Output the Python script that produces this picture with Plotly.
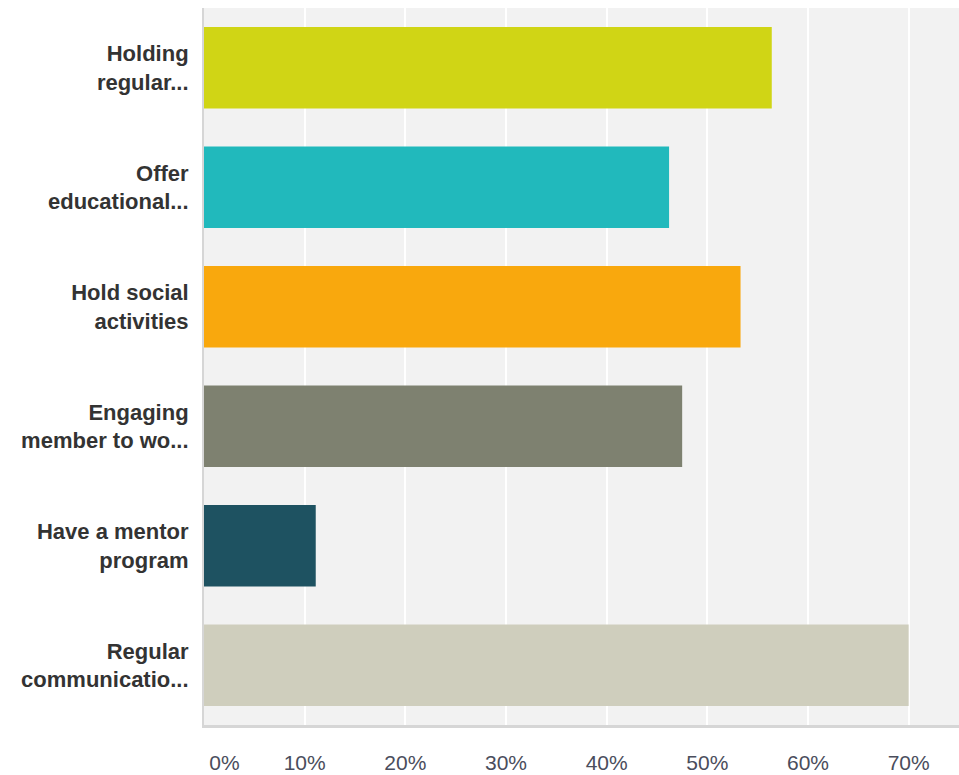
import plotly.graph_objects as go

categories = [
    "Holding<br>regular...",
    "Offer<br>educational...",
    "Hold social<br>activities",
    "Engaging<br>member to wo...",
    "Have a mentor<br>program",
    "Regular<br>communicatio...",
]
percent = [56.4, 46.2, 53.3, 47.5, 11.1, 70.0]
colors = ["#d0d515", "#21b9bc", "#f9a80d", "#7e8170", "#1e5261", "#cfcebd"]
tick_vals = [0, 10, 20, 30, 40, 50, 60, 70]
# the first label sits just right of the axis line in the original
tick_text = ["\u00a0\u00a0\u00a0\u00a0\u00a0\u00a0\u00a00%", "10%", "20%", "30%",
             "40%", "50%", "60%", "70%"]

FONT = "Liberation Sans, Arial, sans-serif"

fig = go.Figure(
    go.Bar(
        x=percent,
        y=categories,
        orientation="h",
        marker=dict(color=colors, line=dict(width=0)),
        hoverinfo="x+y",
    )
)

fig.update_layout(
    width=959,
    height=775,
    margin=dict(l=204, r=0, t=8, b=50),
    paper_bgcolor="white",
    plot_bgcolor="#f2f2f2",
    bargap=0.32,
    showlegend=False,
    font=dict(family=FONT),
)

fig.update_xaxes(
    range=[0, 75],
    tickvals=tick_vals,
    ticktext=tick_text,
    showgrid=True,
    gridcolor="white",
    gridwidth=2,
    zeroline=False,
    showline=True,
    linecolor="#d6d6d6",
    linewidth=3,
    tickfont=dict(size=21, color="#4a4d5c"),
    ticklabelstandoff=17,
    automargin=False,
    fixedrange=True,
)

fig.update_yaxes(
    categoryorder="array",
    categoryarray=categories[::-1],
    showgrid=False,
    zeroline=False,
    showline=True,
    linecolor="#d6d6d6",
    linewidth=2,
    tickfont=dict(size=22, color="#333333", family=FONT, weight="bold"),
    ticklabelstandoff=9,
    automargin=False,
    fixedrange=True,
)

# drop the default page margin so the figure fills the window
fig.write_html("out.html", config={"displayModeBar": False},
               post_script="document.body.style.margin='0';")
